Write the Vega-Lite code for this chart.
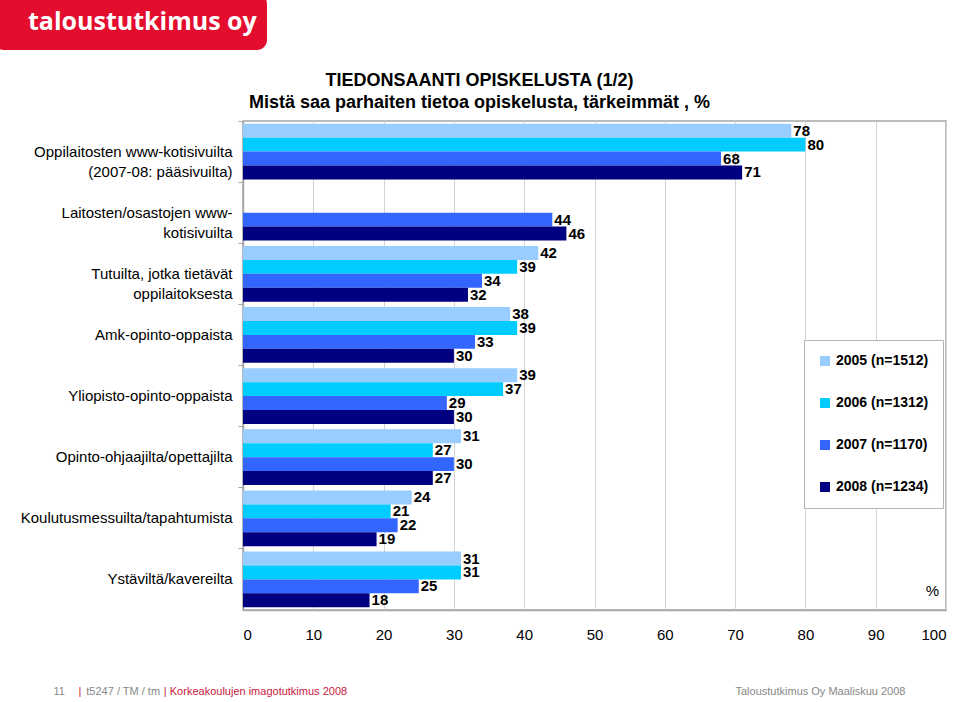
{
  "$schema": "https://vega.github.io/schema/vega-lite/v6.json",
  "width": 703,
  "height": 489,
  "autosize": {"type": "none"},
  "padding": {"left": 243, "top": 121, "right": 14, "bottom": 92},
  "config": {
    "font": "Liberation Sans",
    "title": {"font": "Liberation Sans", "subtitleFont": "Liberation Sans"}
  },
  "view": {"stroke": "#a6a6a6", "strokeWidth": 1.5},
  "title": {
    "text": "TIEDONSAANTI OPISKELUSTA (1/2)",
    "subtitle": "Mistä saa parhaiten tietoa opiskelusta, tärkeimmät , %",
    "anchor": "middle",
    "frame": "group",
    "dx": -115,
    "dy": 127,
    "fontSize": 18,
    "fontWeight": "bold",
    "color": "#000000",
    "subtitleFontSize": 18,
    "subtitleFontWeight": "bold",
    "subtitleColor": "#000000",
    "subtitlePadding": 4,
    "offset": 9
  },
  "resolve": {"axis": {"x": "independent", "y": "independent"}},
  "layer": [
    {
      "data": {
        "values": [
          {"source": "Oppilaitosten www-kotisivuilta (2007-08: pääsivuilta)", "year": "2005 (n=1512)", "value": 78},
          {"source": "Oppilaitosten www-kotisivuilta (2007-08: pääsivuilta)", "year": "2006 (n=1312)", "value": 80},
          {"source": "Oppilaitosten www-kotisivuilta (2007-08: pääsivuilta)", "year": "2007 (n=1170)", "value": 68},
          {"source": "Oppilaitosten www-kotisivuilta (2007-08: pääsivuilta)", "year": "2008 (n=1234)", "value": 71},
          {"source": "Laitosten/osastojen www-kotisivuilta", "year": "2007 (n=1170)", "value": 44},
          {"source": "Laitosten/osastojen www-kotisivuilta", "year": "2008 (n=1234)", "value": 46},
          {"source": "Tutuilta, jotka tietävät oppilaitoksesta", "year": "2005 (n=1512)", "value": 42},
          {"source": "Tutuilta, jotka tietävät oppilaitoksesta", "year": "2006 (n=1312)", "value": 39},
          {"source": "Tutuilta, jotka tietävät oppilaitoksesta", "year": "2007 (n=1170)", "value": 34},
          {"source": "Tutuilta, jotka tietävät oppilaitoksesta", "year": "2008 (n=1234)", "value": 32},
          {"source": "Amk-opinto-oppaista", "year": "2005 (n=1512)", "value": 38},
          {"source": "Amk-opinto-oppaista", "year": "2006 (n=1312)", "value": 39},
          {"source": "Amk-opinto-oppaista", "year": "2007 (n=1170)", "value": 33},
          {"source": "Amk-opinto-oppaista", "year": "2008 (n=1234)", "value": 30},
          {"source": "Yliopisto-opinto-oppaista", "year": "2005 (n=1512)", "value": 39},
          {"source": "Yliopisto-opinto-oppaista", "year": "2006 (n=1312)", "value": 37},
          {"source": "Yliopisto-opinto-oppaista", "year": "2007 (n=1170)", "value": 29},
          {"source": "Yliopisto-opinto-oppaista", "year": "2008 (n=1234)", "value": 30},
          {"source": "Opinto-ohjaajilta/opettajilta", "year": "2005 (n=1512)", "value": 31},
          {"source": "Opinto-ohjaajilta/opettajilta", "year": "2006 (n=1312)", "value": 27},
          {"source": "Opinto-ohjaajilta/opettajilta", "year": "2007 (n=1170)", "value": 30},
          {"source": "Opinto-ohjaajilta/opettajilta", "year": "2008 (n=1234)", "value": 27},
          {"source": "Koulutusmessuilta/tapahtumista", "year": "2005 (n=1512)", "value": 24},
          {"source": "Koulutusmessuilta/tapahtumista", "year": "2006 (n=1312)", "value": 21},
          {"source": "Koulutusmessuilta/tapahtumista", "year": "2007 (n=1170)", "value": 22},
          {"source": "Koulutusmessuilta/tapahtumista", "year": "2008 (n=1234)", "value": 19},
          {"source": "Ystäviltä/kavereilta", "year": "2005 (n=1512)", "value": 31},
          {"source": "Ystäviltä/kavereilta", "year": "2006 (n=1312)", "value": 31},
          {"source": "Ystäviltä/kavereilta", "year": "2007 (n=1170)", "value": 25},
          {"source": "Ystäviltä/kavereilta", "year": "2008 (n=1234)", "value": 18}
        ]
      },
      "encoding": {
        "y": {
          "field": "source",
          "type": "nominal",
          "title": "11\u00a0\u00a0\u00a0\u00a0\u00a0\u00a0\u00a0t5247 / TM / tm",
          "sort": [
            "Oppilaitosten www-kotisivuilta (2007-08: pääsivuilta)",
            "Laitosten/osastojen www-kotisivuilta",
            "Tutuilta, jotka tietävät oppilaitoksesta",
            "Amk-opinto-oppaista",
            "Yliopisto-opinto-oppaista",
            "Opinto-ohjaajilta/opettajilta",
            "Koulutusmessuilta/tapahtumista",
            "Ystäviltä/kavereilta"
          ],
          "scale": {"paddingInner": 0.088, "paddingOuter": 0.044},
          "axis": {
            "labelExpr": "datum.label == 'Oppilaitosten www-kotisivuilta (2007-08: pääsivuilta)' ? ['Oppilaitosten www-kotisivuilta', '(2007-08: pääsivuilta)\u00a0\u00a0\u00a0\u00a0\u00a0\u00a0\u00a0'] : datum.label == 'Laitosten/osastojen www-kotisivuilta' ? ['Laitosten/osastojen www-', 'kotisivuilta\u00a0\u00a0\u00a0\u00a0\u00a0\u00a0\u00a0\u00a0\u00a0\u00a0\u00a0\u00a0'] : datum.label == 'Tutuilta, jotka tietävät oppilaitoksesta' ? ['Tutuilta, jotka tietävät', 'oppilaitoksesta\u00a0\u00a0\u00a0\u00a0\u00a0'] : datum.label",
            "labelFontSize": 15,
            "labelColor": "#000000",
            "labelLineHeight": 20,
            "labelPadding": 6,
            "labelLimit": 400,
            "tickColor": "#a6a6a6",
            "tickSize": 5,
            "bandPosition": -0.048,
            "domainColor": "#a6a6a6",
            "domainWidth": 1.5,
            "titleX": -190,
            "titleY": 570,
            "titleAngle": 0,
            "titleAlign": "left",
            "titleBaseline": "middle",
            "titleFontSize": 11,
            "titleFontWeight": "normal",
            "titleColor": "#888888"
          }
        },
        "yOffset": {
          "field": "year",
          "type": "nominal",
          "sort": ["2005 (n=1512)", "2006 (n=1312)", "2007 (n=1170)", "2008 (n=1234)"],
          "scale": {"paddingInner": 0, "paddingOuter": 0}
        },
        "x": {
          "field": "value",
          "type": "quantitative",
          "title": "%",
          "scale": {"domain": [0, 100], "nice": false},
          "axis": {
            "values": [0, 10, 20, 30, 40, 50, 60, 70, 80, 90, 100],
            "ticks": false,
            "labelFontSize": 15,
            "labelColor": "#000000",
            "labelPadding": 17,
            "gridColor": "#d4d4d4",
            "domainColor": "#a6a6a6",
            "domainWidth": 1.5,
            "titleX": 689,
            "titleY": -20,
            "titleAlign": "center",
            "titleBaseline": "middle",
            "titleFontSize": 15,
            "titleFontWeight": "normal",
            "titleColor": "#000000"
          }
        }
      },
      "layer": [
        {
          "mark": {"type": "bar"},
          "encoding": {
            "color": {
              "field": "year",
              "type": "nominal",
              "scale": {
                "domain": ["2005 (n=1512)", "2006 (n=1312)", "2007 (n=1170)", "2008 (n=1234)"],
                "range": ["#99ccff", "#00ccff", "#3366ff", "#000080"]
              },
              "legend": {
                "title": null,
                "orient": "none",
                "legendX": 561,
                "legendY": 219,
                "direction": "vertical",
                "symbolType": "square",
                "symbolSize": 100,
                "symbolStrokeWidth": 0,
                "labelFontSize": 14,
                "labelFontWeight": "bold",
                "labelColor": "#000000",
                "labelOffset": 4,
                "rowPadding": 28,
                "padding": 14,
                "strokeColor": "#b3b3b3",
                "fillColor": "#ffffff"
              }
            }
          }
        },
        {
          "mark": {"type": "text", "align": "left", "baseline": "middle", "dx": 2, "fontSize": 15, "fontWeight": "bold", "color": "#000000"},
          "encoding": {
            "text": {"field": "value", "type": "quantitative"}
          }
        }
      ]
    },
    {
      "data": {"values": [{"brand": "taloustutkimus oy", "source": "Ystäviltä/kavereilta", "value": 0}]},
      "mark": {"type": "point", "opacity": 0},
      "encoding": {
        "y": {
          "field": "source",
          "type": "nominal",
          "sort": [
            "Oppilaitosten www-kotisivuilta (2007-08: pääsivuilta)",
            "Laitosten/osastojen www-kotisivuilta",
            "Tutuilta, jotka tietävät oppilaitoksesta",
            "Amk-opinto-oppaista",
            "Yliopisto-opinto-oppaista",
            "Opinto-ohjaajilta/opettajilta",
            "Koulutusmessuilta/tapahtumista",
            "Ystäviltä/kavereilta"
          ],
          "title": "Taloustutkimus Oy Maaliskuu 2008",
          "axis": {
            "orient": "right",
            "labels": false,
            "ticks": false,
            "domain": false,
            "grid": false,
            "titleX": -211,
            "titleY": 570,
            "titleAngle": 0,
            "titleAlign": "left",
            "titleBaseline": "middle",
            "titleFontSize": 11,
            "titleFontWeight": "normal",
            "titleColor": "#888888"
          }
        },
        "x": {
          "field": "value",
          "type": "quantitative",
          "title": "|\u00a0\u00a0\u00a0\u00a0\u00a0\u00a0\u00a0\u00a0\u00a0\u00a0\u00a0\u00a0\u00a0\u00a0\u00a0\u00a0\u00a0\u00a0\u00a0\u00a0\u00a0\u00a0\u00a0\u00a0\u00a0\u00a0\u00a0|\u00a0Korkeakoulujen imagotutkimus 2008",
          "axis": {
            "orient": "top",
            "labels": false,
            "ticks": false,
            "domain": false,
            "grid": false,
            "titleX": -165,
            "titleY": 570,
            "titleAlign": "left",
            "titleBaseline": "middle",
            "titleFontSize": 11,
            "titleFontWeight": "normal",
            "titleColor": "#c8203e"
          }
        },
        "shape": {
          "field": "brand",
          "type": "nominal",
          "legend": {
            "title": null,
            "values": ["taloustutkimus oy\u00a0\u00a0"],
            "orient": "none",
            "legendX": -249,
            "legendY": -127,
            "fillColor": "#e30d2d",
            "strokeColor": null,
            "cornerRadius": 10,
            "padding": 10,
            "symbolSize": 1296,
            "symbolOpacity": 0,
            "symbolStrokeWidth": 0,
            "labelOffset": -12,
            "labelFont": "Open Sans",
            "labelFontWeight": "bold",
            "labelFontSize": 25,
            "labelColor": "#ffffff",
            "labelLimit": 500
          }
        }
      }
    }
  ]
}
